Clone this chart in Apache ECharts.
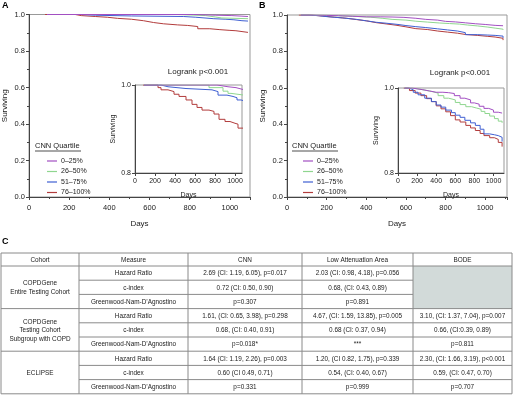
<!DOCTYPE html>
<html><head><meta charset="utf-8">
<script src="https://cdn.jsdelivr.net/npm/echarts@6/dist/echarts.min.js"></script>
<style>html,body{margin:0;padding:0;background:#fff}#c{width:513px;height:402px}</style>
</head><body><div id="c"></div>
<script>
// ---------- data ----------
const quartiles = ['0–25%', '26–50%', '51–75%', '76–100%'];
const legendTitle = 'CNN Quartile';
const logrankText = 'Logrank p<0.001';

const A_q1 = [[90,1],[820,0.996],[930,0.994],[1010,0.991],[1060,0.989],[1090,0.989]];
const A_q2 = [[90,1],[740,0.994],[880,0.986],[930,0.981],[960,0.977],[1090,0.976]];
const A_q3 = [[90,1],[260,0.996],[330,0.992],[510,0.989],[770,0.985],[830,0.977],[920,0.974],[980,0.971],[1020,0.966],[1060,0.964],[1090,0.964]];
const A_q4 = [[80,1],[230,0.994],[260,0.989],[330,0.985],[390,0.979],[440,0.974],[510,0.966],[570,0.956],[620,0.949],[670,0.943],[740,0.940],[790,0.934],[840,0.922],[900,0.917],[950,0.913],[1000,0.911],[1030,0.902],[1090,0.902]];

const B_q1 = [[70,1],[150,0.998],[200,0.996],[260,0.993],[330,0.99],[400,0.99],[470,0.989],[530,0.987],[590,0.982],[650,0.976],[700,0.972],[760,0.965],[800,0.962],[850,0.957],[900,0.952],[950,0.948],[1000,0.943],[1050,0.941],[1090,0.94]];
const B_q2 = [[70,1],[130,0.998],[210,0.995],[280,0.992],[350,0.988],[420,0.982],[480,0.976],[530,0.972],[600,0.966],[650,0.961],[710,0.956],[770,0.953],[820,0.95],[870,0.945],[910,0.94],[960,0.934],[1010,0.928],[1050,0.922],[1090,0.918]];
const B_q3 = [[70,1],[110,0.996],[160,0.99],[210,0.984],[280,0.976],[350,0.968],[400,0.96],[450,0.955],[500,0.948],[560,0.942],[600,0.936],[650,0.931],[700,0.924],[760,0.918],[810,0.912],[860,0.903],[900,0.892],[960,0.89],[1010,0.888],[1050,0.884],[1090,0.874]];
const B_q4 = [[60,1],[120,0.994],[180,0.988],[240,0.982],[300,0.975],[350,0.968],[400,0.958],[450,0.951],[500,0.944],[550,0.935],[600,0.925],[650,0.92],[710,0.912],[760,0.906],[810,0.9],[860,0.893],[900,0.888],[960,0.883],[1010,0.879],[1050,0.872],[1090,0.862]];

const tableHeader = ['Cohort', 'Measure', 'CNN', 'Low Attenuation Area', 'BODE'];
const cohorts = ['COPDGene\nEntire Testing Cohort', 'COPDGene\nTesting Cohort\nSubgroup with COPD', 'ECLIPSE'];
const measures = ['Hazard Ratio', 'c-index', 'Greenwood-Nam-D\u2019Agnostino'];
const cnnCol = ['2.69 (CI: 1.19, 6.05), p=0.017', '0.72 (CI: 0.50, 0.90)', 'p=0.307',
  '1.61, (CI: 0.65, 3.98), p=0.298', '0.68, (CI: 0.40, 0.91)', 'p=0.018*',
  '1.64 (CI: 1.19, 2.26), p=0.003', '0.60 (CI 0.49, 0.71)', 'p=0.331'];
const laaCol = ['2.03 (CI: 0.98, 4.18), p=0.056', '0.68, (CI: 0.43, 0.89)', 'p=0.891',
  '4.67, (CI: 1.59, 13.85), p=0.005', '0.68 (CI: 0.37, 0.94)', '***',
  '1.20, (CI 0.82, 1.75), p=0.339', '0.54, (CI: 0.40, 0.67)', 'p=0.999'];
const bodeCol = [null, null, null,
  '3.10, (CI: 1.37, 7.04), p=0.007', '0.66, (CI:0.39, 0.89)', 'p=0.811',
  '2.30, (CI: 1.66, 3.19), p<0.001', '0.59, (CI: 0.47, 0.70)', 'p=0.707'];

// ---------- styling / layout ----------
const colors = ['#a24fc2', '#8fd68f', '#3f5fd2', '#b23c3c'];
const FONT = 'Liberation Sans, Arial, sans-serif';
const panelA = [A_q1, A_q2, A_q3, A_q4];
const panelB = [B_q1, B_q2, B_q3, B_q4];

const grids = [
  {left: 29, top: 14.5, width: 221, height: 182.5},
  {left: 135, top: 85, width: 107, height: 88},
  {left: 287, top: 15, width: 220, height: 182},
  {left: 398, top: 88, width: 106, height: 85}
];
const xMax = [1100, 1070, 1110, 1110];

function xAx(i, main) {
  return {
    gridIndex: i, type: 'value', min: 0, max: xMax[i], interval: 200,
    name: 'Days', nameLocation: 'middle', nameGap: main ? 23 : 19,
    nameTextStyle: {fontFamily: FONT, fontSize: main ? 8 : 7, color: '#222'},
    axisLine: {show: true, onZero: false, lineStyle: {color: '#444', width: 1}},
    axisTick: {show: true, length: 3, lineStyle: {color: '#444'}},
    minorTick: {show: main, splitNumber: 2, length: 2, lineStyle: {color: '#444'}},
    axisLabel: {fontFamily: FONT, fontSize: main ? 7.5 : 7, color: '#222', margin: main ? 7 : 5,
      showMaxLabel: false, formatter: v => String(v)},
    splitLine: {show: false}
  };
}
function yAx(i, main) {
  return {
    gridIndex: i, type: 'value', min: main ? 0 : 0.8, max: 1, interval: 0.2,
    name: 'Surviving', nameLocation: 'middle', nameGap: main ? 20 : 18,
    nameTextStyle: {fontFamily: FONT, fontSize: main ? 8 : 7, color: '#222'},
    axisLine: {show: true, lineStyle: {color: '#444', width: 1}},
    axisTick: {show: true, length: 3, lineStyle: {color: '#444'}},
    minorTick: {show: main, splitNumber: 2, length: 2, lineStyle: {color: '#444'}},
    axisLabel: {fontFamily: FONT, fontSize: main ? 7.5 : 7, color: '#222', margin: 4,
      formatter: v => v.toFixed(1)},
    splitLine: {show: false}
  };
}

const series = [];
[[panelA, 0, 1], [panelB, 2, 3]].forEach(([panel, gMain, gIn]) => {
  panel.forEach((d, k) => {
    [gMain, gIn].forEach(gi => {
      series.push({
        name: quartiles[k], type: 'line', step: 'end', data: d,
        xAxisIndex: gi, yAxisIndex: gi, symbol: 'none', clip: true,
        lineStyle: {color: colors[k], width: 1}, itemStyle: {color: colors[k]},
        z: 3 + (3 - k)
      });
    });
  });
});

function legendAt(left) {
  return {
    orient: 'vertical', left: left, top: 152, icon: 'rect', itemWidth: 10, itemHeight: 1.2,
    itemGap: 2.5, data: quartiles, selectedMode: false,
    textStyle: {fontFamily: FONT, fontSize: 7, color: '#222', lineHeight: 8, padding: [0, 0, 0, -1]}
  };
}

// ---------- table graphic ----------
const g = [];
const colX = [1, 79, 188, 302, 413, 512];
const tTop = 253, hH = 13, rH = 14.2;
const rowY = i => tTop + hH + i * rH;
const tFont = {fontFamily: FONT, fontSize: 6.4, fill: '#222'};
function txt(x, y, s, extra) {
  g.push({type: 'text', x: x, y: y, style: Object.assign({text: s, align: 'center', verticalAlign: 'middle'}, tFont, extra || {}), z: 10});
}
function line(x1, y1, x2, y2) {
  g.push({type: 'line', shape: {x1, y1, x2, y2}, style: {stroke: '#8a8a8a', lineWidth: 1}, z: 11});
}
g.push({type: 'rect', shape: {x: colX[4], y: rowY(0), width: colX[5] - colX[4], height: 3 * rH}, style: {fill: '#d2dad9'}, z: 9});
tableHeader.forEach((h, c) => txt((colX[c] + colX[c + 1]) / 2, tTop + hH / 2 + 0.5, h));
for (let r = 0; r < 9; r++) {
  const yc = rowY(r) + rH / 2 + 0.5;
  txt((colX[1] + colX[2]) / 2, yc, measures[r % 3]);
  txt((colX[2] + colX[3]) / 2, yc, cnnCol[r]);
  txt((colX[3] + colX[4]) / 2, yc, laaCol[r]);
  if (bodeCol[r]) txt((colX[4] + colX[5]) / 2, yc, bodeCol[r]);
}
cohorts.forEach((c, i) => txt((colX[0] + colX[1]) / 2, rowY(3 * i) + 1.5 * rH + 0.5, c, {lineHeight: 8.5}));
line(colX[0], tTop, colX[5], tTop);
line(colX[0], rowY(0), colX[5], rowY(0));
for (let r = 1; r <= 9; r++) {
  if (r % 3 === 0) line(colX[0], rowY(r), colX[5], rowY(r));
  else line(colX[1], rowY(r), r < 3 ? colX[4] : colX[5], rowY(r));
}
colX.forEach(x => line(x, tTop, x, rowY(9)));

[['A', 2, 1], ['B', 259, 1], ['C', 2, 237]].forEach(([s, x, y]) =>
  g.push({type: 'text', x, y, style: {text: s, fontFamily: FONT, fontSize: 9, fontWeight: 'bold', fill: '#000'}}));
[[198, 72], [460, 73]].forEach(([x, y]) =>
  g.push({type: 'text', x, y, style: {text: logrankText, fontFamily: FONT, fontSize: 8, fill: '#222', align: 'center', verticalAlign: 'middle'}}));
[35, 292].forEach(x => {
  g.push({type: 'text', x, y: 142, style: {text: legendTitle, fontFamily: FONT, fontSize: 7.5, fill: '#222'}});
  g.push({type: 'line', shape: {x1: x, y1: 151, x2: x + 46, y2: 151}, style: {stroke: '#222', lineWidth: 0.8}});
});

const chart = echarts.init(document.getElementById('c'), null, {renderer: 'canvas'});
chart.setOption({
  animation: false,
  backgroundColor: '#fff',
  grid: grids.map(gr => Object.assign({show: true, backgroundColor: '#fff', borderColor: '#999', borderWidth: 1, containLabel: false}, gr)),
  xAxis: [xAx(0, true), xAx(1, false), xAx(2, true), xAx(3, false)],
  yAxis: [yAx(0, true), yAx(1, false), yAx(2, true), yAx(3, false)],
  legend: [legendAt(42), legendAt(298)],
  series: series,
  graphic: g
});
</script></body></html>
